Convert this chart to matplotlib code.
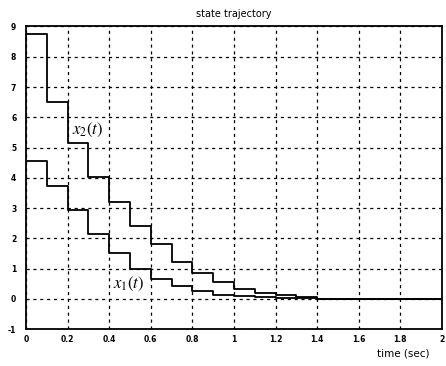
import matplotlib
matplotlib.use("Agg")
import matplotlib.pyplot as plt

plt.rcParams["mathtext.fontset"] = "stix"

# sample instants (s) and held values of the states
t = [0.0, 0.1, 0.2, 0.3, 0.4, 0.5, 0.6, 0.7, 0.8, 0.9, 1.0, 1.1, 1.2, 1.3, 1.4, 2.0]
x1 = [4.55, 3.72, 2.93, 2.15, 1.50, 0.99, 0.64, 0.42, 0.27, 0.14, 0.08, 0.05, 0.04, 0.02, 0.0, 0.0]
x2 = [8.75, 6.50, 5.15, 4.02, 3.20, 2.40, 1.80, 1.22, 0.85, 0.55, 0.33, 0.18, 0.11, 0.05, 0.0, 0.0]

xticks = [0, 0.2, 0.4, 0.6, 0.8, 1, 1.2, 1.4, 1.6, 1.8, 2]
xticklabels = ["0", "0.2", "0.4", "0.6", "0.8", "1", "1.2", "1.4", "1.6", "1.8", "2"]
yticks = [-1, 0, 1, 2, 3, 4, 5, 6, 7, 8, 9]
yticklabels = ["-1", "0", "1", "2", "3", "4", "5", "6", "7", "8", "9"]

fig = plt.figure(figsize=(4.46, 3.66), dpi=100)
ax = fig.add_axes([0.0583, 0.101, 0.9327, 0.8266])

ax.step(t, x2, where="post", color="black", lw=1.3)
ax.step(t, x1, where="post", color="black", lw=1.3)

ax.set_xlim(0, 2)
ax.set_ylim(-1, 9)
ax.set_xticks(xticks)
ax.set_xticklabels(xticklabels)
ax.set_yticks(yticks)
ax.set_yticklabels(yticklabels)
ax.tick_params(length=0, labelsize=5.5)
for lab in ax.get_xticklabels() + ax.get_yticklabels():
    lab.set_fontweight("bold")
ax.tick_params(axis="y", pad=7)
ax.tick_params(axis="x", pad=4)

ax.grid(True, color="black", linestyle=(0, (2.5, 3)), linewidth=0.9)
for s in ax.spines.values():
    s.set_linewidth(1.3)

ax.text(0.22, 5.57, r"$x_2(t)$", fontsize=12, va="center", ha="left")
ax.text(0.42, 0.49, r"$x_1(t)$", fontsize=12, va="center", ha="left")

fig.text(0.525, 0.962, "state trajectory", ha="center", va="center", fontsize=7)
fig.text(0.905, 0.033, "time (sec)", ha="center", va="center", fontsize=7.5)

fig.savefig("out.png", dpi=100)
